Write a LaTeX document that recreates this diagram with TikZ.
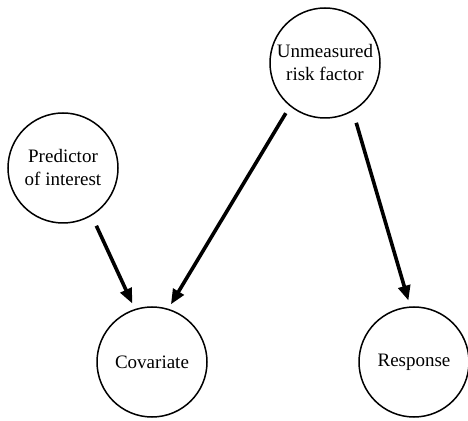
\documentclass[tikz,border=0pt]{standalone}
\usepackage{fontspec}
\setmainfont{Liberation Serif}
\usetikzlibrary{arrows, arrows.meta}
\tikzset{vertex/.style = {shape = circle, draw, line width = 1.5pt, minimum size = 110pt, inner sep = 0pt, align = center, font = \fontsize{19}{23}\selectfont}}
\tikzset{edge/.style = {-{Triangle[length = 15pt, width = 12pt]}, line width = 3.6pt}}

\begin{document}
\begin{tikzpicture}[x = 1pt, y = 1pt]
			\useasboundingbox (0, 0) rectangle (468, 420);
			\node[vertex] (u) at (325, 357) {Unmeasured\\risk factor};
			\node[vertex] (p) at (63, 252) {Predictor\\of interest};
			\node[vertex] (c) at (152, 58) {Covariate};
			\node[vertex] (r) at (414, 58) {Response};

			\draw[edge, shorten < = 11pt, shorten > = 6pt] (p.301) to (c.108);
			\draw[edge, shorten < = 8pt, shorten > = 5pt] (u.231) to (c.73);
			\draw[edge, shorten < = 12pt, shorten > = 6pt] (u.300) to (r.94);
		\end{tikzpicture}
\end{document}
